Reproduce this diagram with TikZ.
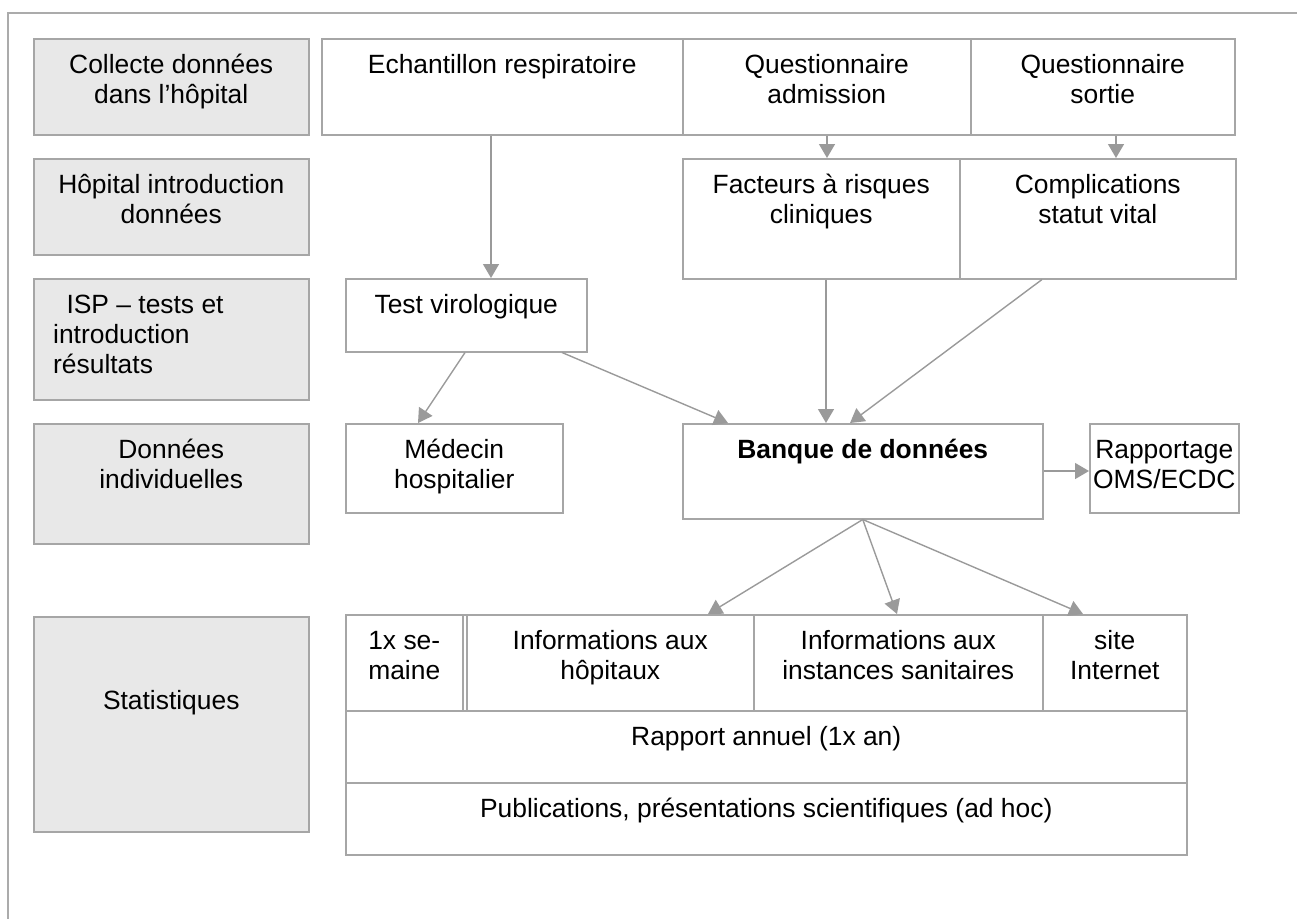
\documentclass[tikz,border=0pt]{standalone}
\usepackage{fontspec}
\setmainfont{Liberation Sans}
\usetikzlibrary{arrows.meta}
\definecolor{boxgray}{HTML}{E8E8E8}
\definecolor{linegray}{HTML}{A6A6A6}
\definecolor{arrowgray}{HTML}{9A9A9A}
\definecolor{framegray}{HTML}{ABABAB}
\begin{document}
\begin{tikzpicture}[x=1pt,y=-1pt,
  cell/.style={draw=linegray,line width=1.5pt,inner sep=0pt,anchor=north west,fill=white},
  graycell/.style={cell,fill=boxgray},
  txt/.style={anchor=north,inner sep=0pt,align=center,font=\fontsize{26.4}{30}\selectfont,yshift=-14pt},
  arr/.style={draw=arrowgray,line width=1.4pt,-{Triangle[length=14pt,width=16pt]}}
]
\useasboundingbox (0,0) rectangle (1297,919);
% outer frame
\coordinate (frTR) at (1297,13);
\coordinate (frTL) at (8,13);
\coordinate (frBL) at (8,919);
\draw[framegray,line width=1.5pt] (frTR) -- (frTL) -- (frBL);

% left column
\node[graycell,minimum width=275pt,minimum height=96pt] (g1) at (33,38) {};
\node[txt] (g1t) at (g1.north) {\strut Collecte données\\dans l’hôpital};
\node[graycell,minimum width=275pt,minimum height=96pt] (g2) at (33,158) {};
\node[txt] (g2t) at (g2.north) {\strut Hôpital introduction\\données};
\node[graycell,minimum width=275pt,minimum height=121pt] (g3) at (33,278) {};
\node[txt,anchor=north west,align=left] (g3t) at ([xshift=20pt]g3.north west) {\strut\hspace{6pt} ISP – tests et\\introduction\\résultats};
\node[graycell,minimum width=275pt,minimum height=120pt] (g4) at (33,423) {};
\node[txt] (g4t) at (g4.north) {\strut Données\\individuelles};
\node[graycell,minimum width=275pt,minimum height=215pt] (g5) at (33,616) {};
\node[txt,yshift=-58pt] (g5t) at (g5.north) {\strut Statistiques};

% row 1
\node[cell,minimum width=361pt,minimum height=96pt] (echa) at (321,38) {};
\node[txt] (echat) at (echa.north) {\strut Echantillon respiratoire};
\node[cell,minimum width=288pt,minimum height=96pt] (qadm) at (682,38) {};
\node[txt] (qadmt) at (qadm.north) {\strut Questionnaire\\admission};
\node[cell,minimum width=264pt,minimum height=96pt] (qsort) at (970,38) {};
\node[txt] (qsortt) at (qsort.north) {\strut Questionnaire\\sortie};

% row 2
\node[cell,minimum width=277pt,minimum height=120pt] (fact) at (682,158) {};
\node[txt] (factt) at (fact.north) {\strut Facteurs à risques\\cliniques};
\node[cell,minimum width=276pt,minimum height=120pt] (compl) at (959,158) {};
\node[txt] (complt) at (compl.north) {\strut Complications\\statut vital};

% row 3
\node[cell,minimum width=241pt,minimum height=73pt] (test) at (345,278) {};
\node[txt] (testt) at (test.north) {\strut Test virologique};

% row 4
\node[cell,minimum width=217pt,minimum height=89pt] (med) at (345,423) {};
\node[txt] (medt) at (med.north) {\strut Médecin\\hospitalier};
\node[cell,minimum width=360pt,minimum height=95pt] (bank) at (682,423) {};
\node[txt] (bankt) at (bank.north) {\strut\textbf{Banque de données}};
\node[cell,minimum width=149pt,minimum height=89pt] (rapp) at (1089,423) {};
\node[txt] (rappt) at (rapp.north) {\strut Rapportage\\OMS/ECDC};

% statistics block
\node[cell,minimum width=841pt,minimum height=96pt] (srow) at (345,614) {};
\node[cell,minimum width=117pt,minimum height=96pt] (sem) at (345,614) {};
\node[txt] (semt) at (sem.north) {\strut 1x se-\\maine};
\node[cell,minimum width=287pt,minimum height=96pt] (infoh) at (466,614) {};
\node[txt] (infoht) at (infoh.north) {\strut Informations aux\\hôpitaux};
\node[cell,minimum width=289pt,minimum height=96pt] (infoi) at (753,614) {};
\node[txt] (infoit) at (infoi.north) {\strut Informations aux\\instances sanitaires};
\node[cell,minimum width=144pt,minimum height=96pt] (site) at (1042,614) {};
\node[txt] (sitet) at (site.north) {\strut site\\Internet};
\node[cell,minimum width=841pt,minimum height=72pt] (rann) at (345,710) {};
\node[txt] (rannt) at (rann.north) {\strut Rapport annuel (1x an)};
\node[cell,minimum width=841pt,minimum height=72pt] (pub) at (345,782) {};
\node[txt] (pubt) at (pub.north) {\strut Publications, présentations scientifiques (ad hoc)};

% connectors
\draw[arr] (echa.south -| 491,0) -- (test.north -| 491,0);
\draw[arr] (qadm.south -| 827,0) -- (fact.north -| 827,0);
\draw[arr] (qsort.south -| 1116,0) -- (compl.north -| 1116,0);
\draw[arr] (test.south -| 465,0) -- (med.north -| 418,0);
\draw[arr] (test.south -| 562,0) -- (bank.north -| 728,0);
\draw[arr] (fact.south -| 826,0) -- (bank.north -| 826,0);
\draw[arr] (compl.south -| 1042,0) -- (bank.north -| 850,0);
\draw[arr] (bank.east |- 0,471) -- (rapp.west |- 0,471);
\draw[arr] (bank.south) -- (infoh.north -| 708,0);
\draw[arr] (bank.south) -- (infoi.north -| 897,0);
\draw[arr] (bank.south) -- (site.north -| 1083,0);
\end{tikzpicture}
\end{document}
